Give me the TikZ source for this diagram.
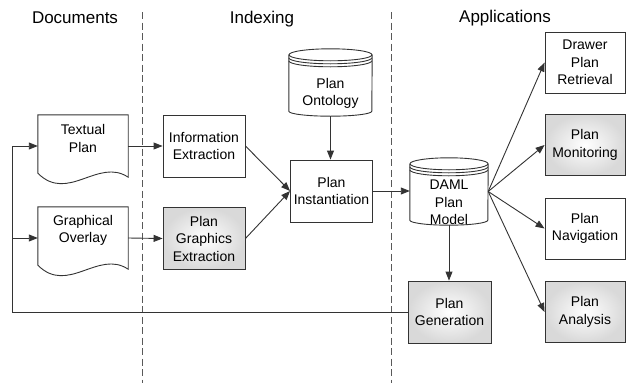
\documentclass[tikz,border=0pt]{standalone}
\usepackage{fontspec}
\setmainfont{Liberation Sans}
\usetikzlibrary{arrows.meta,calc}

\newcommand\boxfont{\fontsize{14}{17.5}\selectfont}
\newcommand\headfont{\fontsize{17}{20}\selectfont}

% document symbol: straight top and sides, wavy bottom edge
\newcommand\docoutline[1]{%
  \draw[ln] ($(#1.south west)+(0,-4)$) -- (#1.north west) -- (#1.north east) -- (#1.south east)
    .. controls ($(#1.south east)+(-30,-20)$) and ($(#1.south west)+(30,26)$) .. ($(#1.south west)+(0,-4)$);}

% database symbol: cylinder with a doubled rim under the lid
\newcommand\dboutline[2]{%
  \draw[ln] ($(#1.north west)+(0,6)$) -- ($(#1.south west)+(0,-5)$)
    arc[start angle=180,end angle=360,x radius=#2,y radius=5pt]
    -- ($(#1.north east)+(0,6)$);
  \draw[ln] ($(#1.north)+(0,6)$) ellipse[x radius=#2,y radius=6pt];
  \draw[ln] ($(#1.north west)+(0,9)$) arc[start angle=180,end angle=360,x radius=#2,y radius=6pt];
  \draw[ln] ($(#1.north west)+(0,12)$) arc[start angle=180,end angle=360,x radius=#2,y radius=6pt];}

\begin{document}
\begin{tikzpicture}[x=1pt,y=-1pt,
  ln/.style={draw=black!80,line width=0.9pt},
  arr/.style={ln,-{Triangle[length=9pt,width=7pt]}},
  sep/.style={draw=black!65,line width=0.9pt,dash pattern=on 7pt off 3.5pt},
  head/.style={font=\headfont,anchor=base,inner sep=0pt},
  box/.style={ln,rectangle,minimum width=82pt,minimum height=62pt,inner sep=0pt,align=center,font=\boxfont},
  appbox/.style={box,minimum width=80pt,minimum height=61pt},
  shaded/.style={shade,shading=radial,inner color=white,outer color=gray!30},
  docnode/.style={rectangle,minimum width=90pt,minimum height=62pt,inner sep=0pt},
  dbnode/.style={rectangle,minimum height=67pt,inner sep=0pt},
  txt/.style={font=\boxfont,align=center,inner sep=0pt}]

\useasboundingbox (0,0) rectangle (627,383);

% column headings
\node[head] (hdoc) at (75,23) {Documents};
\node[head] (hidx) at (262,23) {Indexing};
\node[head] (happ) at (505,22) {Applications};

% column separators
\coordinate (s1t) at (142,12);
\coordinate (s1b) at (142,383);
\coordinate (s2t) at (391,12);
\coordinate (s2b) at (391,383);
\draw[sep] (s1t) -- (s1b);
\draw[sep] (s2t) -- (s2b);

% documents
\node[docnode,label={[txt,yshift=7.5pt,name=tpl]center:Textual\\Plan}] (tp) at (83,146) {};
\node[docnode,label={[txt,yshift=7.5pt,name=gol]center:Graphical\\Overlay}] (go) at (83,238) {};
\docoutline{tp}
\docoutline{go}

% indexing
\node[box] (ie) at (204,146) {Information\\Extraction};
\node[box,shaded] (pge) at (204,238.5) {Plan\\Graphics\\Extraction};
\node[box] (inst) at (331.5,191) {Plan\\Instantiation};
\node[dbnode,minimum width=83pt,label={[txt,yshift=-11pt,name=ontl]center:Plan\\Ontology}] (ont) at (330.5,82.5) {};
\dboutline{ont}{41.5pt}

% applications
\node[dbnode,minimum width=78pt,label={[txt,yshift=-11pt,name=damll]center:DAML\\Plan\\Model}] (daml) at (449,191.5) {};
\dboutline{daml}{39pt}
\node[appbox] (ret) at (585,62.5) {Drawer\\Plan\\Retrieval};
\node[appbox,shaded] (mon) at (585,145) {Plan\\Monitoring};
\node[appbox] (nav) at (585,228.5) {Plan\\Navigation};
\node[appbox,shaded] (ana) at (585,312) {Plan\\Analysis};
\node[box,minimum width=83pt,shaded] (gen) at (449.5,312) {Plan\\Generation};

% flow
\draw[arr] (tp.east) -- (ie.west);
\draw[arr] (go.east) -- (pge.west);
\draw[arr] (ie.east) -- (inst.west);
\draw[arr] (pge.east) -- (inst.west);
\draw[arr] (ont.south) -- (ont.south |- inst.north);
\draw[arr] (inst.east) -- (inst.east -| daml.west);
\draw[arr] (daml.east) -- (ret.west);
\draw[arr] (daml.east) -- (mon.west);
\draw[arr] (daml.east) -- (nav.west);
\draw[arr] (daml.east) -- (ana.west);
\draw[arr] (daml.south) -- (daml.south |- gen.north);

% feedback from plan generation to the documents
\coordinate (fb) at ($(tp.west)+(-25,0)$);
\draw[arr] (gen.west) -| (fb) -- (tp.west);
\draw[arr] (fb |- go.west) -- (go.west);

\end{tikzpicture}
\end{document}
